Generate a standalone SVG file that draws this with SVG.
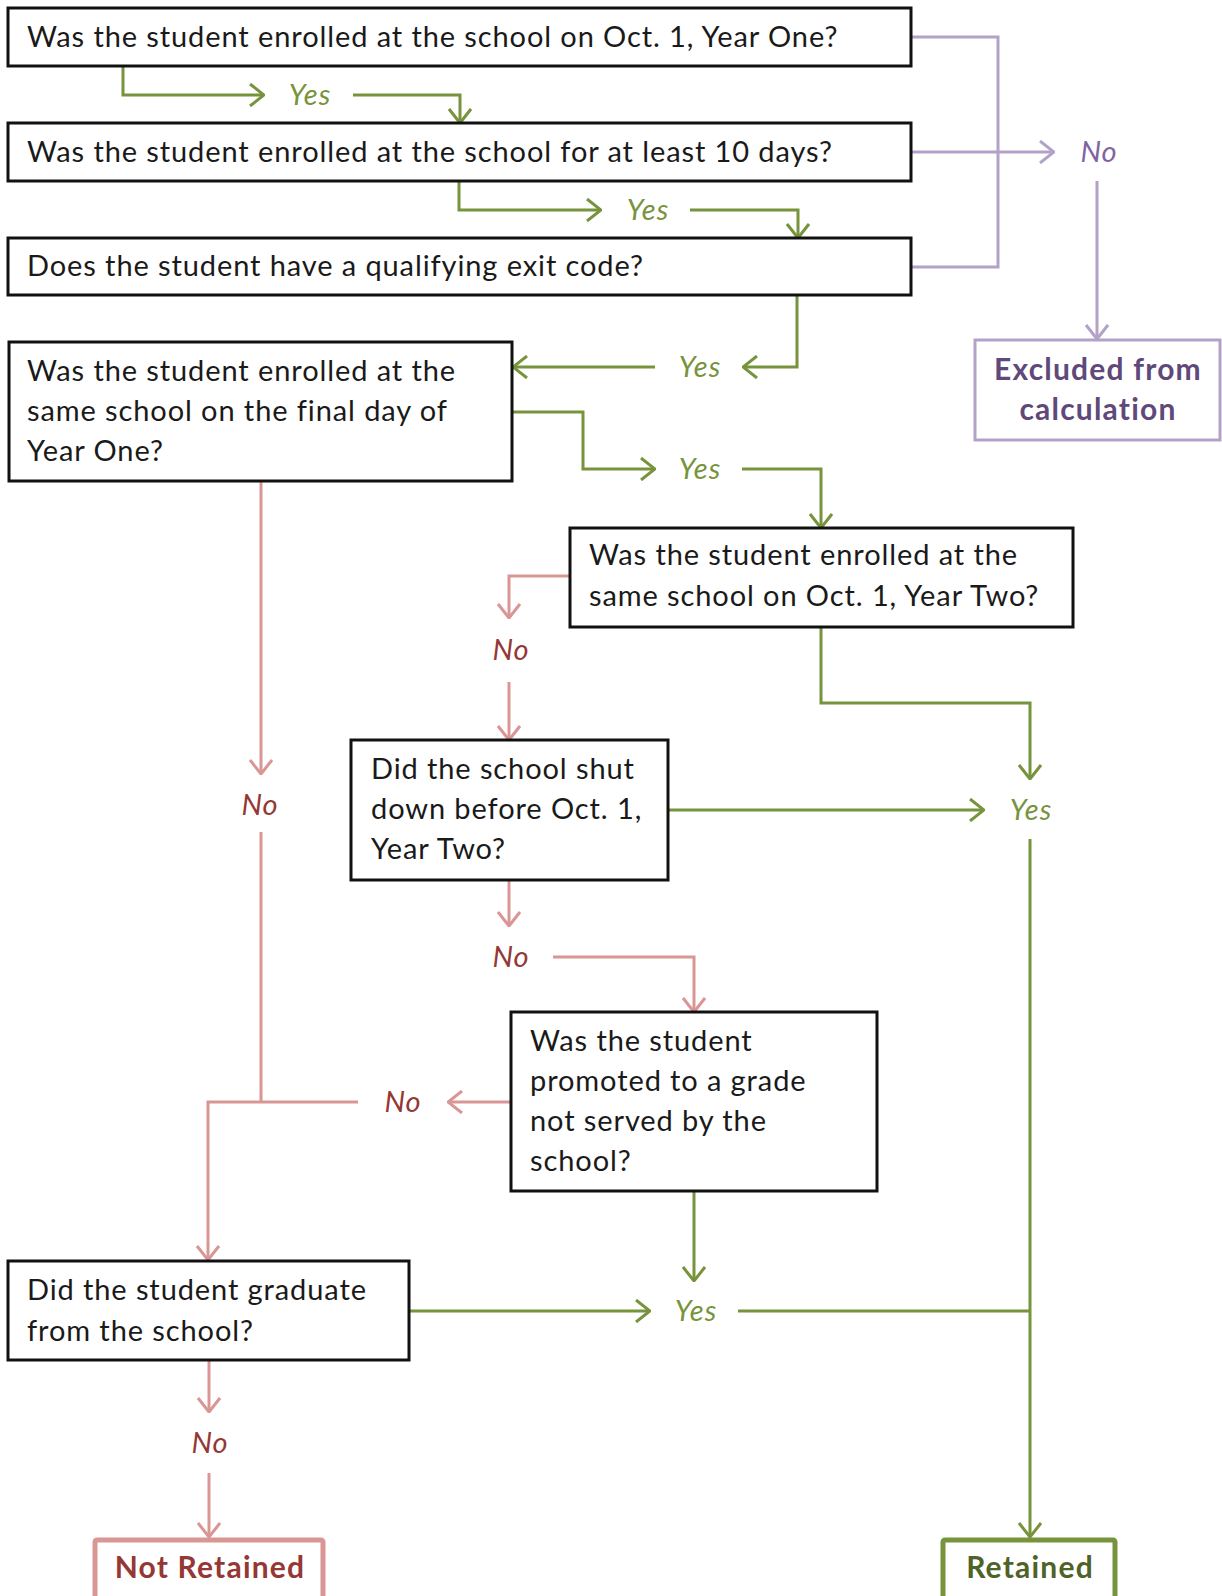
<svg xmlns="http://www.w3.org/2000/svg" width="1222" height="1596" viewBox="0 0 1222 1596">
<style>
.box{fill:#fff;stroke:#111;stroke-width:3}
.t{font-family:Lato,"Open Sans",sans-serif;font-size:29px;letter-spacing:0.9px;fill:#1a1a1a}
.lbl{font-family:Lato,"Open Sans",sans-serif;font-size:29px;letter-spacing:1px;font-style:italic;text-anchor:middle}
.g{fill:#77933c}
.r{fill:#953735}
.p{fill:#8064a2}
.cg{fill:none;stroke:#77933c;stroke-width:3}
.cr{fill:none;stroke:#d99694;stroke-width:3}
.cp{fill:none;stroke:#b3a2c7;stroke-width:3}
.end{font-family:Lato,"Open Sans",sans-serif;font-size:30px;letter-spacing:1.2px;font-weight:bold;text-anchor:middle}
</style>
<defs>
<marker id="ag" viewBox="0 0 16 24" refX="15" refY="12" markerWidth="16" markerHeight="24" markerUnits="userSpaceOnUse" orient="auto"><path d="M1,1 L15,12 L1,23" fill="none" stroke="#77933c" stroke-width="3"/></marker>
<marker id="ar" viewBox="0 0 16 24" refX="15" refY="12" markerWidth="16" markerHeight="24" markerUnits="userSpaceOnUse" orient="auto"><path d="M1,1 L15,12 L1,23" fill="none" stroke="#d99694" stroke-width="3"/></marker>
<marker id="ap" viewBox="0 0 16 24" refX="15" refY="12" markerWidth="16" markerHeight="24" markerUnits="userSpaceOnUse" orient="auto"><path d="M1,1 L15,12 L1,23" fill="none" stroke="#b3a2c7" stroke-width="3"/></marker>
</defs>

<g id="connectors">
<path class="cg" d="M123,66 V95 H264" marker-end="url(#ag)"/>
<path class="cg" d="M353,95 H460 V123" marker-end="url(#ag)"/>
<path class="cg" d="M459,181 V210 H601" marker-end="url(#ag)"/>
<path class="cg" d="M690,210 H798 V238" marker-end="url(#ag)"/>
<path class="cg" d="M797,295 V367 H743" marker-end="url(#ag)"/>
<path class="cg" d="M655,367 H513" marker-end="url(#ag)"/>
<path class="cg" d="M512,412 H583 V469 H655" marker-end="url(#ag)"/>
<path class="cg" d="M742,469 H821 V528" marker-end="url(#ag)"/>
<path class="cg" d="M821,627 V703 H1030 V779" marker-end="url(#ag)"/>
<path class="cg" d="M668,810 H984" marker-end="url(#ag)"/>
<path class="cg" d="M1030,839 V1537" marker-end="url(#ag)"/>
<path class="cg" d="M694,1191 V1281" marker-end="url(#ag)"/>
<path class="cg" d="M409,1311 H650" marker-end="url(#ag)"/>
<path class="cg" d="M738,1311 H1030"/>
<path class="cp" d="M911,37 H998 V267 H911"/>
<path class="cp" d="M911,152 H1054" marker-end="url(#ap)"/>
<path class="cp" d="M1097,181 V339" marker-end="url(#ap)"/>
<path class="cr" d="M261,481 V774" marker-end="url(#ar)"/>
<path class="cr" d="M261,832 V1102"/>
<path class="cr" d="M358,1102 H208 V1260" marker-end="url(#ar)"/>
<path class="cr" d="M570,576 H509 V618" marker-end="url(#ar)"/>
<path class="cr" d="M509,682 V740" marker-end="url(#ar)"/>
<path class="cr" d="M509,880 V926" marker-end="url(#ar)"/>
<path class="cr" d="M553,957 H694 V1012" marker-end="url(#ar)"/>
<path class="cr" d="M511,1102 H448" marker-end="url(#ar)"/>
<path class="cr" d="M209,1360 V1412" marker-end="url(#ar)"/>
<path class="cr" d="M209,1473 V1537" marker-end="url(#ar)"/>
</g>

<g id="labels">
<text class="lbl g" x="310" y="105">Yes</text>
<text class="lbl g" x="648" y="220">Yes</text>
<text class="lbl g" x="700" y="377">Yes</text>
<text class="lbl g" x="700" y="479">Yes</text>
<text class="lbl g" x="1031" y="820">Yes</text>
<text class="lbl g" x="696" y="1321">Yes</text>
<text class="lbl p" x="1099" y="162">No</text>
<text class="lbl r" x="260" y="815">No</text>
<text class="lbl r" x="511" y="660">No</text>
<text class="lbl r" x="511" y="967">No</text>
<text class="lbl r" x="403" y="1112">No</text>
<text class="lbl r" x="210" y="1453">No</text>
</g>

<g id="q1">
<rect class="box" x="8" y="8" width="903" height="58"/>
<text class="t" x="27" y="47">Was the student enrolled at the school on Oct. 1, Year One?</text>
</g>
<g id="q2">
<rect class="box" x="8" y="123" width="903" height="58"/>
<text class="t" x="27" y="162">Was the student enrolled at the school for at least 10 days?</text>
</g>
<g id="q3">
<rect class="box" x="8" y="238" width="903" height="57"/>
<text class="t" x="27" y="276">Does the student have a qualifying exit code?</text>
</g>
<g id="excluded">
<rect x="975" y="340" width="245" height="100" fill="#fff" stroke="#b3a2c7" stroke-width="3"/>
<text class="end" x="1098" y="380" fill="#5f497a">Excluded from</text>
<text class="end" x="1098" y="420" fill="#5f497a">calculation</text>
</g>
<g id="q4">
<rect class="box" x="9" y="342" width="503" height="139"/>
<text class="t" x="27" y="381">Was the student enrolled at the</text>
<text class="t" x="27" y="421">same school on the final day of</text>
<text class="t" x="27" y="461">Year One?</text>
</g>
<g id="q5">
<rect class="box" x="570" y="528" width="503" height="99"/>
<text class="t" x="589" y="565">Was the student enrolled at the</text>
<text class="t" x="589" y="606">same school on Oct. 1, Year Two?</text>
</g>
<g id="q6">
<rect class="box" x="351" y="740" width="317" height="140"/>
<text class="t" x="371" y="779">Did the school shut</text>
<text class="t" x="371" y="819">down before Oct. 1,</text>
<text class="t" x="371" y="859">Year Two?</text>
</g>
<g id="q7">
<rect class="box" x="511" y="1012" width="366" height="179"/>
<text class="t" x="530" y="1051">Was the student</text>
<text class="t" x="530" y="1091">promoted to a grade</text>
<text class="t" x="530" y="1131">not served by the</text>
<text class="t" x="530" y="1171">school?</text>
</g>
<g id="q8">
<rect class="box" x="8" y="1261" width="401" height="99"/>
<text class="t" x="27" y="1300">Did the student graduate</text>
<text class="t" x="27" y="1341">from the school?</text>
</g>
<g id="not-retained">
<rect x="95" y="1540" width="228" height="60" rx="2" fill="#fff" stroke="#d99694" stroke-width="5"/>
<text class="end" x="210" y="1578" fill="#953735">Not Retained</text>
</g>
<g id="retained">
<rect x="943" y="1540" width="172" height="60" rx="2" fill="#fff" stroke="#77933c" stroke-width="5"/>
<text class="end" x="1030" y="1578" fill="#4f6228">Retained</text>
</g>
</svg>
